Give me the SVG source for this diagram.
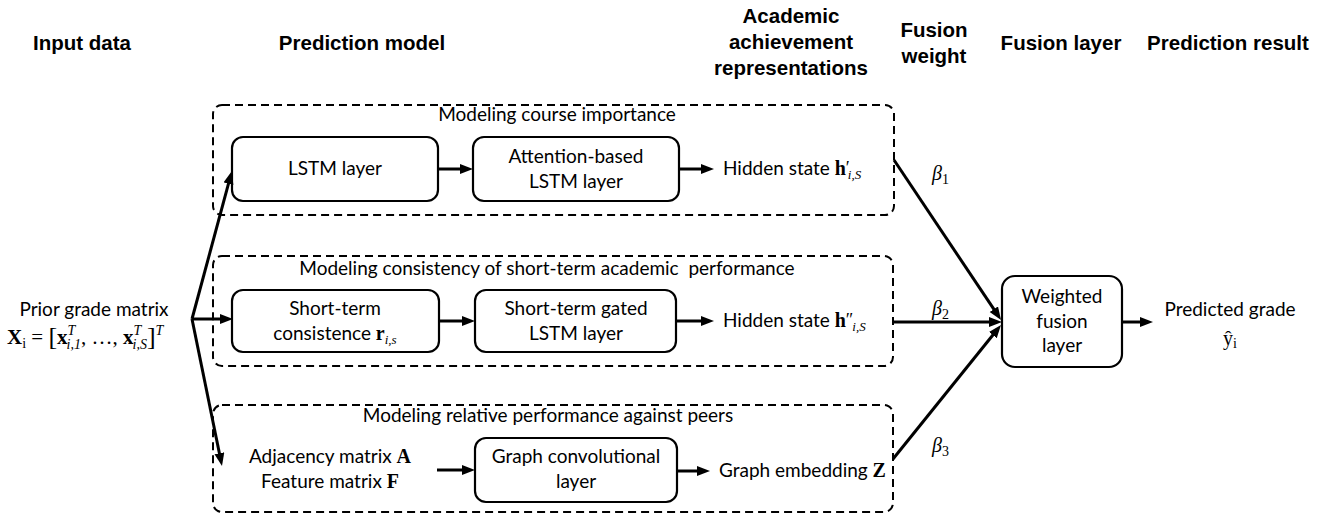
<svg xmlns="http://www.w3.org/2000/svg" width="1323" height="514" viewBox="0 0 1323 514">
<style>
.hd{font-family:"Liberation Sans",Arial,sans-serif;font-weight:bold;font-size:20.5px;fill:#000;text-anchor:middle}
.t{font-family:Lato,"Open Sans",sans-serif;font-size:19px;fill:#000}
.c{text-anchor:middle}
.m{font-family:"Liberation Serif","DejaVu Serif",serif}
.b{font-weight:bold}
.i{font-style:italic}
.dash{fill:none;stroke:#000;stroke-width:2;stroke-dasharray:8 5}
.box{fill:#fff;stroke:#000;stroke-width:2.2}
.ar{stroke:#000;stroke-width:3;fill:none;marker-end:url(#ah)}
</style>
<defs>
<marker id="ah" markerUnits="userSpaceOnUse" markerWidth="14" markerHeight="11" refX="3" refY="5" orient="auto">
<path d="M0,0 L13,5 L0,10 z" fill="#000"/>
</marker>
</defs>

<g id="headers">
<text class="hd" x="82" y="50">Input data</text>
<text class="hd" x="362" y="50">Prediction model</text>
<text class="hd" x="791" y="23">Academic</text>
<text class="hd" x="791" y="49">achievement</text>
<text class="hd" x="791" y="75">representations</text>
<text class="hd" x="934" y="37">Fusion</text>
<text class="hd" x="934" y="63">weight</text>
<text class="hd" x="1061" y="50">Fusion layer</text>
<text class="hd" x="1228" y="50">Prediction result</text>
</g>

<g id="group-course">
<rect class="dash" x="213" y="105" width="681" height="110" rx="9"/>
<text class="t c" x="557" y="121">Modeling course importance</text>
</g>
<g id="group-consistency">
<rect class="dash" x="213" y="256" width="680" height="110" rx="9"/>
<text class="t c" x="547" y="275" xml:space="preserve">Modeling consistency of short-term academic  performance</text>
</g>
<g id="group-relative">
<rect class="dash" x="213" y="405" width="680" height="107" rx="9"/>
<text class="t c" x="548" y="422">Modeling relative performance against peers</text>
</g>

<g id="input">
<text class="t c" x="94" y="316">Prior grade matrix</text>
<text class="m" x="7" y="344" font-size="21"><tspan class="b">X</tspan><tspan font-size="14" dy="4">i</tspan><tspan dy="-4"> = </tspan><tspan font-size="26" dy="1">[</tspan><tspan class="b" dy="-1">x</tspan><tspan class="i" font-size="14" dy="-9">T</tspan><tspan class="i" font-size="14" dx="-8" dy="14">i,1</tspan><tspan dy="-5">, …, </tspan><tspan class="b">x</tspan><tspan class="i" font-size="14" dy="-9">T</tspan><tspan class="i" font-size="14" dx="-8" dy="14">i,S</tspan><tspan font-size="26" dy="-4">]</tspan><tspan class="i" font-size="14" dy="-10">T</tspan></text>
</g>

<g id="lstm">
<rect class="box" x="232" y="137" width="206" height="64" rx="11"/>
<text class="t c" x="335" y="175">LSTM layer</text>
</g>
<g id="attention-lstm">
<rect class="box" x="473" y="137" width="206" height="64" rx="11"/>
<text class="t c" x="576" y="163">Attention-based</text>
<text class="t c" x="576" y="188">LSTM layer</text>
</g>
<g id="hidden1">
<text class="t" x="723" y="175">Hidden state <tspan class="m b" font-size="20">h</tspan><tspan class="m" font-size="18" dy="-1">′</tspan><tspan class="m i" font-size="13" dx="-2" dy="5">i,S</tspan></text>
</g>

<g id="short-term">
<rect class="box" x="232" y="290" width="207" height="62" rx="11"/>
<text class="t c" x="335" y="315">Short-term</text>
<text class="t c" x="335" y="340">consistence <tspan class="m b" font-size="20">r</tspan><tspan class="m i" font-size="13" dy="4">i,s</tspan></text>
</g>
<g id="gated-lstm">
<rect class="box" x="475" y="290" width="201" height="62" rx="11"/>
<text class="t c" x="576" y="315">Short-term gated</text>
<text class="t c" x="576" y="340">LSTM layer</text>
</g>
<g id="hidden2">
<text class="t" x="723" y="327">Hidden state <tspan class="m b" font-size="20">h</tspan><tspan class="m" font-size="18" dy="-1">″</tspan><tspan class="m i" font-size="13" dx="-1" dy="5">i,S</tspan></text>
</g>

<g id="matrices">
<text class="t c" x="330" y="463">Adjacency matrix <tspan class="m b" font-size="20">A</tspan></text>
<text class="t c" x="330" y="488">Feature matrix <tspan class="m b" font-size="20">F</tspan></text>
</g>
<g id="gcn">
<rect class="box" x="475" y="438" width="202" height="64" rx="11"/>
<text class="t c" x="576" y="463">Graph convolutional</text>
<text class="t c" x="576" y="488">layer</text>
</g>
<g id="embedding">
<text class="t" x="719" y="477">Graph embedding <tspan class="m b" font-size="20">Z</tspan></text>
</g>

<g id="fusion">
<rect class="box" x="1002" y="276" width="120" height="91" rx="13"/>
<text class="t c" x="1062" y="303">Weighted</text>
<text class="t c" x="1062" y="328">fusion</text>
<text class="t c" x="1062" y="352">layer</text>
</g>
<g id="result">
<text class="t c" x="1230" y="316">Predicted grade</text>
<text class="m c" x="1230" y="345" font-size="20">ŷ<tspan font-size="14" dy="3">i</tspan></text>
</g>

<g id="weights">
<text class="m" x="932" y="180" font-size="20"><tspan class="i">β</tspan><tspan font-size="14" dy="4">1</tspan></text>
<text class="m" x="932" y="315" font-size="20"><tspan class="i">β</tspan><tspan font-size="14" dy="4">2</tspan></text>
<text class="m" x="932" y="452" font-size="20"><tspan class="i">β</tspan><tspan font-size="14" dy="4">3</tspan></text>
</g>

<g id="connectors">
<line class="ar" x1="192" y1="319" x2="223" y2="319"/>
<line class="ar" x1="192" y1="319" x2="229.3" y2="180.7"/>
<line class="ar" x1="192" y1="319" x2="220" y2="456.2"/>
<line class="ar" x1="438" y1="169" x2="463" y2="169"/>
<line class="ar" x1="679" y1="169" x2="704" y2="169"/>
<line class="ar" x1="439" y1="321" x2="465" y2="321"/>
<line class="ar" x1="676" y1="321" x2="704" y2="321"/>
<line class="ar" x1="437" y1="470" x2="465" y2="470"/>
<line class="ar" x1="677" y1="471" x2="700" y2="471"/>
<line class="ar" x1="894" y1="160" x2="995.5" y2="311.7"/>
<line class="ar" x1="893" y1="322" x2="992" y2="322"/>
<line class="ar" x1="893" y1="459" x2="994.7" y2="332.8"/>
<line class="ar" x1="1122" y1="322" x2="1143" y2="322"/>
</g>
</svg>
